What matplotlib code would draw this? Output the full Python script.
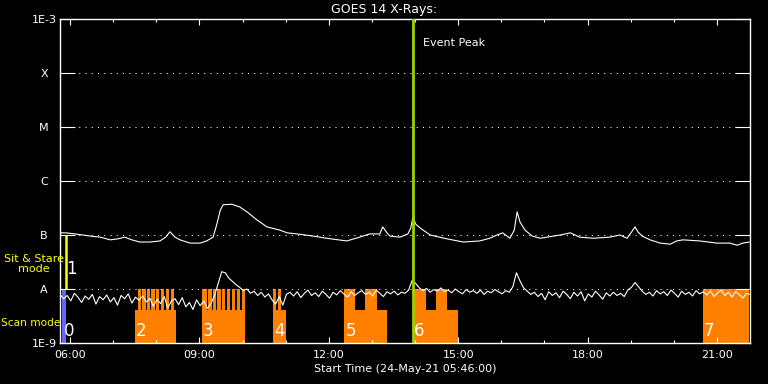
import numpy as np
import matplotlib.pyplot as plt
from matplotlib.ticker import FixedLocator, FuncFormatter, NullLocator


def hrs(t):
    # "HH:MM" -> decimal hours of the day
    h, m = t.split(':')
    return int(h) + int(m) / 60


START = '05:46'
END = '21:46'
PEAK = '13:57'

# GOES long channel (1-8 A), log10 flux
long_times = ['05:46', '05:54', '06:07', '06:28', '06:42', '06:56', '07:07', '07:16', '07:26', '07:37',
              '07:51', '08:05', '08:13', '08:19', '08:26', '08:33', '08:47', '09:01', '09:10', '09:19',
              '09:24', '09:29', '09:33', '09:45', '09:56', '10:06', '10:20', '10:34', '10:52', '11:02',
              '11:16', '11:38', '12:02', '12:25', '12:43', '12:57', '13:11', '13:15', '13:21', '13:25',
              '13:39', '13:50', '13:54', '13:57', '14:01', '14:07', '14:21', '14:44', '15:07', '15:30',
              '15:44', '15:54', '16:02', '16:12', '16:18', '16:22', '16:26', '16:33', '16:43', '16:54',
              '17:22', '17:36', '17:49', '18:08', '18:31', '18:45', '18:55', '19:02', '19:06', '19:10',
              '19:16', '19:27', '19:41', '19:55', '20:04', '20:13', '20:36', '21:00', '21:18', '21:28',
              '21:36', '21:45']
long_logflux = [-6.96, -6.96, -6.98, -7.02, -7.04, -7.09, -7.07, -7.04, -7.09, -7.13,
                -7.13, -7.11, -7.04, -6.94, -7.04, -7.09, -7.15, -7.15, -7.11, -7.04,
                -6.81, -6.54, -6.44, -6.43, -6.48, -6.57, -6.72, -6.85, -6.91, -6.96,
                -6.98, -7.02, -7.07, -7.11, -7.04, -6.98, -6.98, -6.85, -6.96, -7.02,
                -7.04, -6.98, -6.87, -6.67, -6.80, -6.87, -7.00, -7.07, -7.13, -7.11,
                -7.06, -7.00, -6.96, -7.06, -6.91, -6.57, -6.76, -6.91, -7.02, -7.06,
                -7.00, -6.96, -7.04, -7.06, -7.04, -7.00, -7.06, -6.93, -6.85, -6.94,
                -7.02, -7.09, -7.15, -7.17, -7.11, -7.09, -7.11, -7.15, -7.15, -7.19,
                -7.15, -7.13]

# GOES short channel (0.5-4 A), one value every 5 minutes from 05:46
short_logflux = [
    -8.10, -8.18, -8.12, -8.22, -8.08, -8.15, -8.25, -8.13, -8.19, -8.10, -8.28, -8.14,
    -8.20, -8.11, -8.24, -8.16, -8.30, -8.12, -8.18, -8.09, -8.26, -8.15, -8.21, -8.13,
    -8.24, -8.17, -8.32, -8.19, -8.27, -8.14, -8.35, -8.22, -8.18, -8.29, -8.16, -8.33,
    -8.25, -8.38, -8.20, -8.31, -8.22, -8.36, -8.27, -8.12, -7.90, -7.68, -7.70, -7.80,
    -7.86, -7.92, -7.97, -8.03, -8.00, -8.08, -8.04, -8.12, -8.06, -8.15, -8.09, -8.20,
    -8.28, -8.14, -8.30, -8.10, -8.06, -8.13, -8.05, -8.16, -8.08, -8.02, -8.12, -8.07,
    -8.14, -8.04, -8.10, -8.17, -8.06, -8.11, -8.03, -8.09, -8.15, -8.05, -8.12, -8.07,
    -8.03, -8.10, -8.06, -8.13, -8.02, -8.08, -8.14, -8.05, -8.09, -8.04, -8.11, -8.06,
    -8.08, -8.02, -7.84, -7.90, -7.98, -8.03, -7.99, -8.06, -8.01, -8.04, -7.98, -8.05,
    -8.02, -8.07, -8.00, -8.05, -8.09, -8.01, -8.06, -8.03, -8.08, -8.02, -8.10, -8.04,
    -8.07, -8.01, -8.05, -8.09, -8.03, -8.06, -7.96, -7.70, -7.85, -7.98, -8.04, -8.10,
    -8.06, -8.14, -8.08, -8.20, -8.05, -8.12, -8.07, -8.16, -8.04, -8.10, -8.18, -8.06,
    -8.13, -8.05, -8.22, -8.09, -8.15, -8.04, -8.11, -8.19, -8.07, -8.13, -8.06, -8.12,
    -8.08, -8.14, -8.02, -7.97, -7.88, -7.96, -8.04, -8.10, -8.06, -8.13, -8.03, -8.09,
    -8.05, -8.12, -8.02, -8.08, -8.15, -8.04, -8.10, -8.06, -8.13, -8.03, -8.09, -8.05,
    -8.11, -8.04, -8.14, -8.07, -8.02, -8.12, -8.06, -8.15, -8.05, -8.10, -8.17, -8.08,
    -8.10]
SHORT_STEP_MIN = 5

# observing modes
scan_blocks = [('07:30', '08:27'), ('09:03', '10:03'), ('10:42', '11:00'),
               ('12:21', '13:21'), ('13:57', '15:00')]
scan_tall = [('07:34', '07:38'), ('07:40', '07:45'), ('07:47', '07:51'), ('07:53', '07:58'),
             ('08:00', '08:04'), ('08:06', '08:11'), ('08:13', '08:17'), ('08:20', '08:24'),
             ('09:03', '09:10'), ('09:12', '09:17'), ('09:19', '09:23'), ('09:25', '09:30'),
             ('09:32', '09:36'), ('09:39', '09:42'), ('09:45', '09:49'), ('09:52', '09:56'),
             ('09:59', '10:03'), ('10:42', '10:47'), ('10:49', '10:54'),
             ('12:21', '12:36'), ('12:50', '13:07'), ('13:57', '14:15'), ('14:29', '14:44'),
             ('20:40', '21:44')]
block_labels = ['2', '3', '4', '5', '6', '7']
block_label_times = ['07:30', '09:03', '10:42', '12:21', '13:57', '20:40']
scan0 = ('05:49', '05:54')
stare1 = '05:54'

level_names = ['1E-9', 'A', 'B', 'C', 'M', 'X', '1E-3']
level_values = [1e-9, 1e-8, 1e-7, 1e-6, 1e-5, 1e-4, 1e-3]

ORANGE = '#ff8000'
LOW_TOP = 4.1e-9

fig = plt.figure(figsize=(7.68, 3.84), dpi=100, facecolor='black')
ax = fig.add_axes([60 / 768, 1 - 343 / 384, 690 / 768, 324 / 384], facecolor='black')
ax.set_yscale('log')
ax.set_xlim(hrs(START), hrs(END))
ax.set_ylim(1e-9, 1e-3)

# scan mode blocks
for a, b in scan_blocks:
    ax.bar(hrs(a), LOW_TOP - 1e-9, width=hrs(b) - hrs(a), bottom=1e-9, align='edge',
           color=ORANGE, lw=0, zorder=1)
for a, b in scan_tall:
    ax.bar(hrs(a), 1e-8 - 1e-9, width=hrs(b) - hrs(a), bottom=1e-9, align='edge',
           color=ORANGE, lw=0, zorder=1)
ax.bar(hrs(scan0[0]), 1e-8 - 1e-9, width=hrs(scan0[1]) - hrs(scan0[0]), bottom=1e-9,
       align='edge', color='#6464ff', lw=0, zorder=1)
ax.vlines(hrs(stare1), 1e-8, 1e-7, color='#ffff00', lw=1.8, zorder=2)

for lab, t in zip(block_labels, block_label_times):
    ax.annotate(lab, xy=(hrs(t), 1e-9), xytext=(1, 2), textcoords='offset points',
                color='white', fontsize=12, ha='left', va='bottom', zorder=5)
ax.annotate('0', xy=(hrs(scan0[0]), 1e-9), xytext=(1, 2), textcoords='offset points',
            color='white', fontsize=12, ha='left', va='bottom', zorder=5)
ax.annotate('1', xy=(hrs(stare1), 1e-8), xytext=(0, 8), textcoords='offset points',
            color='white', fontsize=12, ha='left', va='bottom', zorder=5)

# dotted class levels
for v in level_values[1:-1]:
    ax.axhline(v, color='white', lw=0.75, ls=(0, (1, 5)), zorder=2)

# flux curves
short_times = hrs(START) + np.arange(len(short_logflux)) * SHORT_STEP_MIN / 60
ax.plot(short_times, 10 ** np.array(short_logflux), color='white', lw=0.8, zorder=3)
ax.plot([hrs(t) for t in long_times], 10 ** np.array(long_logflux), color='white', lw=0.8, zorder=3)

ax.axvline(hrs(PEAK), color='#a0d000', lw=2, zorder=4)
ax.annotate('Event Peak', xy=(hrs(PEAK), 1), xycoords=('data', 'axes fraction'),
            xytext=(7, -17), textcoords='offset points', color='white', fontsize=8,
            ha='left', va='center')

# axes styling
for s in ax.spines.values():
    s.set_color('white')
    s.set_linewidth(1)
ax.yaxis.set_major_locator(FixedLocator(level_values))
ax.yaxis.set_minor_locator(NullLocator())
ax.set_yticklabels(level_names)
for lab in ax.get_yticklabels():
    lab.set_horizontalalignment('center')
ax.xaxis.set_major_locator(FixedLocator(range(6, 22, 3)))
ax.xaxis.set_minor_locator(FixedLocator(range(6, 22)))
ax.xaxis.set_major_formatter(FuncFormatter(lambda x, p: f'{int(x):02d}:00'))
ax.tick_params(which='both', direction='in', top=True, right=True, colors='white',
               labelsize=8, width=0.8)
ax.tick_params(axis='y', length=10.8, pad=11.5)
ax.tick_params(axis='x', which='major', length=4.3, pad=5)
ax.tick_params(axis='x', which='minor', length=2.2)
ax.set_xlabel('Start Time (24-May-21 05:46:00)', color='white', fontsize=8, labelpad=3)

fig.text(0.5, 1 - 10 / 384, 'GOES 14 X-Rays:', color='white', fontsize=9,
         ha='center', va='center')
fig.text(34 / 768, 1 - 264 / 384, 'Sit & Stare\nmode', color='#ffff00', fontsize=8,
         ha='center', va='center', linespacing=1.05)
fig.text(1 / 768, 1 - 323 / 384, 'Scan mode', color='#ffff00', fontsize=7.6,
         ha='left', va='center')

fig.savefig('out.png', dpi=100, facecolor='black')
